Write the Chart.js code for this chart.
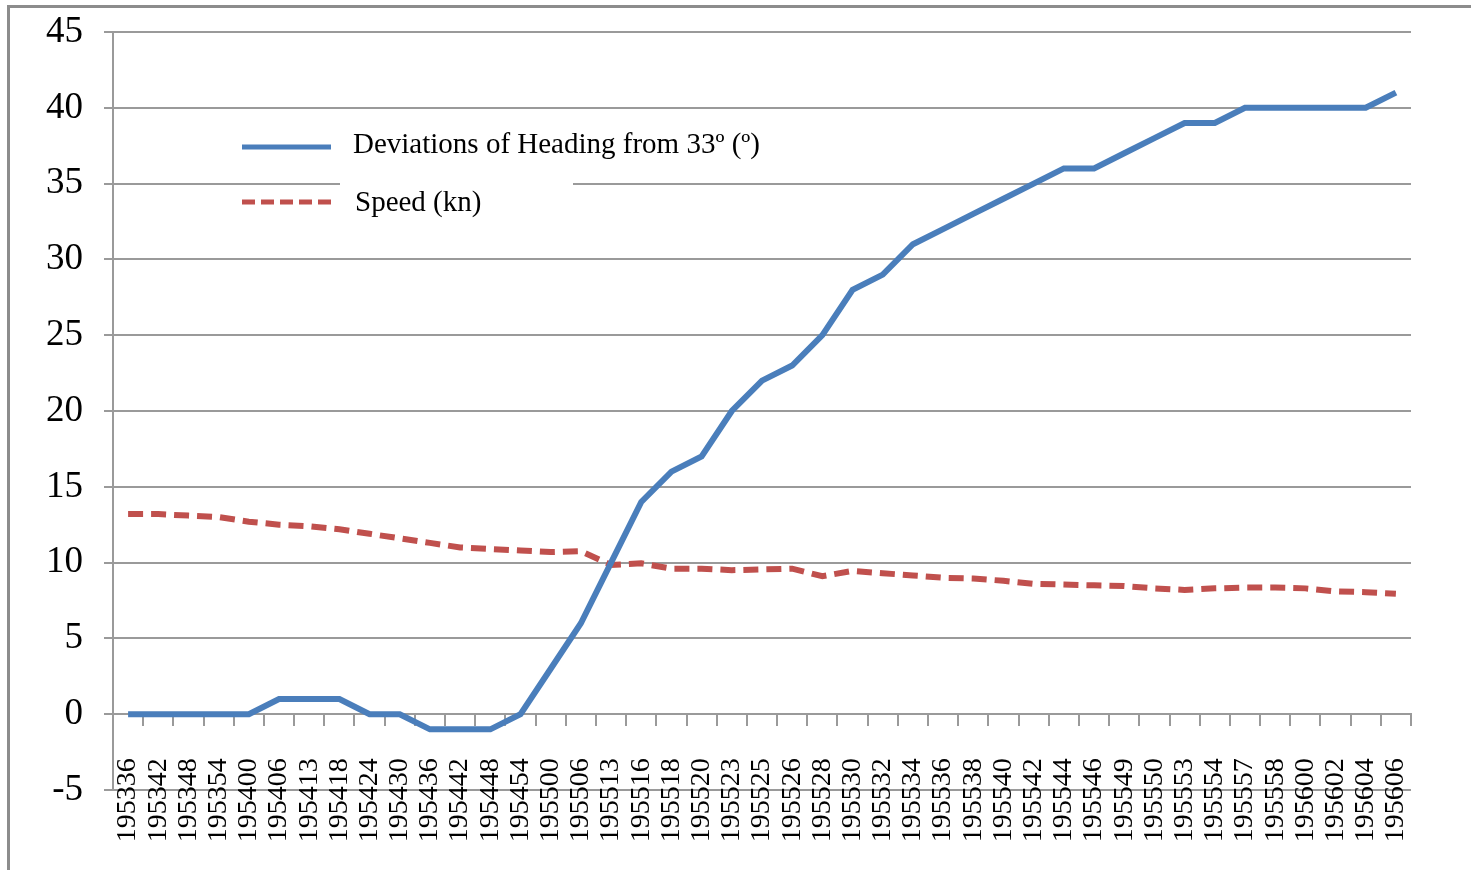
<!DOCTYPE html>
<html>
<head>
<meta charset="utf-8">
<script src="https://cdn.jsdelivr.net/npm/chart.js@4"></script>
<style>
  html, body { margin: 0; padding: 0; background: #fff; }
  #wrap { width: 1471px; height: 870px; position: relative; }
</style>
</head>
<body>
<div id="wrap"><canvas id="chart" width="1471" height="870"></canvas></div>
<script>
// --- data ---
const labels = [
  "195336", "195342", "195348", "195354", "195400", "195406", "195413", "195418",
  "195424", "195430", "195436", "195442", "195448", "195454", "195500", "195506",
  "195513", "195516", "195518", "195520", "195523", "195525", "195526", "195528",
  "195530", "195532", "195534", "195536", "195538", "195540", "195542", "195544",
  "195546", "195549", "195550", "195553", "195554", "195557", "195558", "195600",
  "195602", "195604", "195606"
];

const heading = [
  0, 0, 0, 0, 0, 1, 1, 1, 0, 0, -1, -1, -1, 0, 3, 6,
  10, 14, 16, 17, 20, 22, 23, 25, 28, 29, 31, 32, 33, 34, 35, 36,
  36, 37, 38, 39, 39, 40, 40, 40, 40, 40, 41
];

const speed = [
  13.2, 13.2, 13.1, 13.0, 12.7, 12.5, 12.4, 12.2, 11.9, 11.6, 11.3, 11.0, 10.9, 10.8, 10.7, 10.75,
  9.85, 9.95, 9.6, 9.6, 9.5, 9.55, 9.6, 9.1, 9.45, 9.3, 9.15, 9.0, 8.95, 8.8, 8.6, 8.55,
  8.5, 8.45, 8.3, 8.2, 8.3, 8.35, 8.35, 8.3, 8.1, 8.05, 7.95
];

const seriesNames = ["Deviations of Heading from 33º (º)", "Speed (kn)"];
const yTicks = { min: -5, max: 45, step: 5 };

const BLUE = "#4a7ebb";
const RED = "#c0504d";
const GRID = "#9a9a9a";
const SERIF = "'Liberation Serif', 'Times New Roman', serif";

// frame + legend drawn by hand, like the original sheet
const sheetDecor = {
  id: "sheetDecor",
  beforeDraw(chart) {
    const ctx = chart.ctx;
    ctx.save();
    ctx.fillStyle = "#fff";
    ctx.fillRect(0, 0, chart.width, chart.height);
    ctx.fillStyle = "#8c8c8c";
    ctx.fillRect(7, 5, chart.width - 7, 3);
    ctx.fillRect(7, 5, 3, chart.height - 5);
    ctx.restore();
  },
  afterDatasetsDraw(chart) {
    const ctx = chart.ctx;
    ctx.save();
    // white legend box piece that cuts the 35 gridline
    ctx.fillStyle = "#fff";
    ctx.fillRect(340, 179, 233, 8);

    ctx.lineWidth = 5;
    ctx.lineCap = "butt";
    ctx.strokeStyle = BLUE;
    ctx.beginPath();
    ctx.moveTo(242, 147);
    ctx.lineTo(331, 147);
    ctx.stroke();

    ctx.strokeStyle = RED;
    ctx.setLineDash([13, 6]);
    ctx.beginPath();
    ctx.moveTo(242, 202);
    ctx.lineTo(334, 202);
    ctx.stroke();
    ctx.setLineDash([]);

    ctx.fillStyle = "#000";
    ctx.font = "29px " + SERIF;
    ctx.textBaseline = "middle";
    ctx.textAlign = "left";
    ctx.fillText(seriesNames[0], 353, 145, 416);
    ctx.fillText(seriesNames[1], 355, 203, 131);
    ctx.restore();
  }
};

const ctx = document.getElementById("chart").getContext("2d");
new Chart(ctx, {
  type: "line",
  data: {
    labels: labels,
    datasets: [
      {
        label: seriesNames[0],
        data: heading,
        borderColor: BLUE,
        borderWidth: 6,
        pointRadius: 0,
        tension: 0,
        fill: false
      },
      {
        label: seriesNames[1],
        data: speed,
        borderColor: RED,
        borderWidth: 6,
        borderDash: [15, 8],
        pointRadius: 0,
        tension: 0,
        fill: false
      }
    ]
  },
  options: {
    responsive: false,
    animation: false,
    layout: { padding: { left: 8, top: 32, right: 60, bottom: 80 } },
    plugins: {
      legend: { display: false },
      tooltip: { enabled: false }
    },
    scales: {
      x: {
        type: "category",
        offset: true,
        position: { y: 0 },
        grid: {
          drawOnChartArea: false,
          drawTicks: true,
          tickLength: 11,
          offset: true,
          color: GRID,
          lineWidth: 2
        },
        border: { color: GRID, width: 2 },
        ticks: {
          autoSkip: false,
          minRotation: 90,
          maxRotation: 90,
          padding: 33,
          color: "#000",
          font: { family: SERIF, size: 28 }
        }
      },
      y: {
        min: yTicks.min,
        max: yTicks.max,
        grid: { color: GRID, lineWidth: 2, tickLength: 9 },
        border: { color: GRID, width: 2 },
        ticks: {
          stepSize: yTicks.step,
          padding: 21,
          color: "#000",
          font: { family: SERIF, size: 37 }
        },
        afterFit(scale) {
          scale.width = 105;
          scale.paddingTop = 0;
          scale.paddingBottom = 0;
        }
      }
    }
  },
  plugins: [sheetDecor]
});
</script>
</body>
</html>
